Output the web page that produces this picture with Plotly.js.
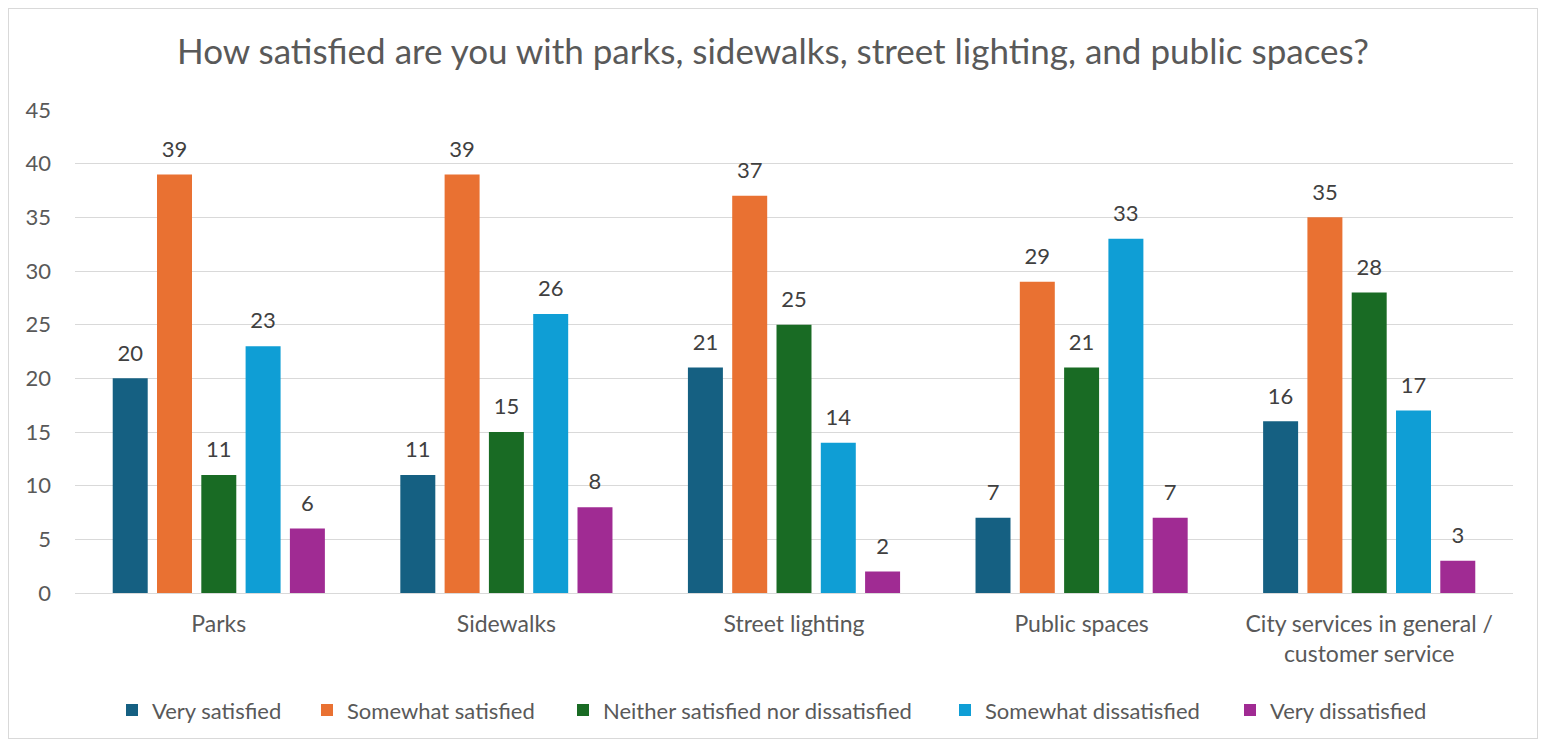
<!DOCTYPE html>
<html>
<head>
<meta charset="utf-8">
<script src="https://cdn.plot.ly/plotly-3.0.1.min.js"></script>
<style>
  html, body { margin: 0; padding: 0; background: #ffffff; }
  #wrap { position: relative; width: 1546px; height: 746px; }
  #chart { position: absolute; left: 0; top: 0; width: 1546px; height: 746px; }
  #frame { position: absolute; left: 8px; top: 8px; width: 1528px; height: 729px; border: 1px solid #d9d9d9; pointer-events: none; }
</style>
</head>
<body>
<div id="wrap">
  <div id="chart"></div>
  <div id="frame"></div>
</div>
<script>
const categories = ["Parks", "Sidewalks", "Street lighting", "Public spaces", "City services in general /<br>customer service"];
const seriesNames = ["Very satisfied", "Somewhat satisfied", "Neither satisfied nor dissatisfied", "Somewhat dissatisfied", "Very dissatisfied"];
const verySatisfied = [20, 11, 21, 7, 16];
const somewhatSatisfied = [39, 39, 37, 29, 35];
const neither = [11, 15, 25, 21, 28];
const somewhatDissatisfied = [23, 26, 14, 33, 17];
const veryDissatisfied = [6, 8, 2, 7, 3];
const yTicks = [0, 5, 10, 15, 20, 25, 30, 35, 40, 45];
const colors = ["#156082", "#E97132", "#196B24", "#0F9ED5", "#A02B93"];

const seriesValues = [verySatisfied, somewhatSatisfied, neither, somewhatDissatisfied, veryDissatisfied];
const FONT = "Lato, 'Open Sans', sans-serif";

// legend placement (pixel x of each legend's left edge in the 1546px-wide page)
const legendLeftPx = [112, 307, 563, 945, 1230];
const legendIds = ["legend", "legend2", "legend3", "legend4", "legend5"];

const traces = [];
seriesValues.forEach((vals, i) => {
  traces.push({
    type: "bar",
    name: seriesNames[i],
    x: categories,
    y: vals,
    marker: { color: colors[i] },
    legend: legendIds[i],
    hoverinfo: "x+y+name"
  });
});
seriesValues.forEach((vals, i) => {
  traces.push({
    type: "scatter",
    mode: "markers+text",
    orientation: "v",
    x: categories,
    y: vals,
    text: vals.map(String),
    textposition: "top center",
    textfont: { family: FONT, size: 22, color: "#404040" },
    marker: { size: 18, color: "rgba(0,0,0,0)" },
    showlegend: false,
    hoverinfo: "skip",
    cliponaxis: false
  });
});

const layout = {
  width: 1546,
  height: 746,
  paper_bgcolor: "rgba(0,0,0,0)",
  plot_bgcolor: "rgba(0,0,0,0)",
  font: { family: FONT, color: "#595959", size: 22 },
  title: {
    text: "How satisfied are you with parks, sidewalks, street lighting, and public spaces?",
    font: { family: FONT, size: 35, color: "#595959" },
    x: 0.5, xanchor: "center", xref: "container",
    y: 0.93, yanchor: "middle", yref: "container"
  },
  barmode: "group",
  bargap: 0.23,
  bargroupgap: 0.21,
  scattermode: "group",
  scattergap: 0.23,
  margin: { l: 75, r: 33, t: 110, b: 153 },
  xaxis: {
    type: "category",
    showgrid: false,
    showline: true,
    linecolor: "#d9d9d9",
    linewidth: 1,
    ticks: "",
    tickfont: { family: FONT, size: 23, color: "#595959" },
    ticklabelstandoff: 10
  },
  yaxis: {
    range: [0, 45],
    tickvals: yTicks,
    ticktext: yTicks.map(String),
    showgrid: true,
    gridcolor: "#d9d9d9",
    gridwidth: 1,
    zeroline: false,
    showline: false,
    ticks: "",
    tickfont: { family: FONT, size: 22, color: "#595959" },
    ticklabelstandoff: 23
  },
  showlegend: true
};

legendIds.forEach((id, i) => {
  layout[id] = {
    orientation: "h",
    x: legendLeftPx[i] / 1546, xanchor: "left", xref: "container",
    y: 0.048, yanchor: "middle", yref: "container",
    font: { family: FONT, size: 22, color: "#595959" },
    itemwidth: 30,
    bgcolor: "rgba(0,0,0,0)"
  };
});

Plotly.newPlot("chart", traces, layout, { displayModeBar: false, staticPlot: true });
</script>
</body>
</html>
